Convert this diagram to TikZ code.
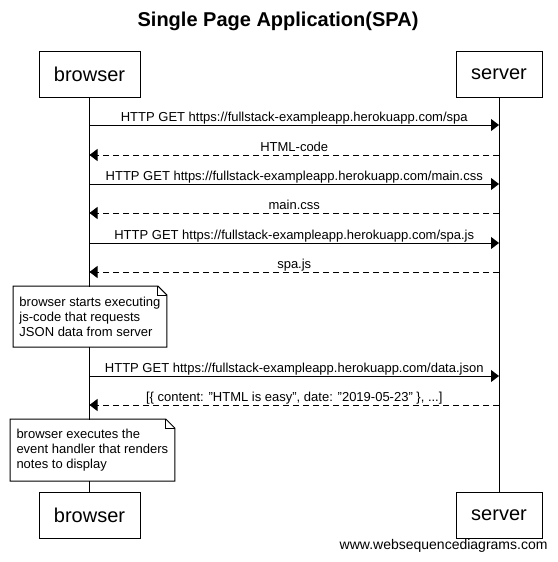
\documentclass[tikz,border=0pt]{standalone}
\usepackage{fontspec}
\setmainfont{Liberation Sans}
\usetikzlibrary{arrows.meta,positioning}

% outline of a note with a folded corner
\newcommand{\dogear}[1]{%
	\draw (#1.north west) -- ([xshift=-9pt]#1.north east) -- ([yshift=-9pt]#1.north east)
		-- (#1.south east) -- (#1.south west) -- cycle;
	\draw ([xshift=-9pt]#1.north east) -- ([xshift=-9pt,yshift=-9pt]#1.north east)
		-- ([yshift=-9pt]#1.north east);}

\begin{document}
\begin{tikzpicture}[x=1pt,y=-1pt,line width=1pt,
		partbox/.style={rectangle,draw,fill=white,minimum height=46pt,inner sep=0pt,
		font=\fontsize{20}{24}\selectfont},
		msgarrow/.style={-{Triangle[length=8pt,width=12pt]}},
		replyarrow/.style={msgarrow,dash pattern=on 6pt off 4pt},
		msglabel/.style={anchor=base,yshift=3.5pt,inner sep=0pt,font=\fontsize{13}{15}\selectfont},
		notebox/.style={rectangle,fill=white,anchor=north west,align=left,inner xsep=6pt,
		inner ysep=0pt,font=\fontsize{13}{15}\selectfont}
		]
		\useasboundingbox (0,0) rectangle (557,562);

		\node[font=\bfseries\fontsize{20}{24}\selectfont](title) at (278,21){Single Page Application(SPA)};

		\node[partbox, minimum width=101pt](B1) at (89.5,74){browser};
		\node[partbox, minimum width=86pt](S1) at (499,74){server};
		\node[partbox, minimum width=101pt](B2) at (89.5,515.5){browser};
		\node[partbox, minimum width=86pt](S2) at (499,515.5){server};
		\draw (B1) -- (B2);
		\draw (S1) -- (S2);

		\coordinate (b1) at (B1 |- 0,125); \coordinate (s1) at (S1 |- 0,125);
		\draw[msgarrow] (b1) -- (s1) node [midway, msglabel]{HTTP GET https://fullstack-exampleapp.herokuapp.com/spa};
		\coordinate (b2) at (B1 |- 0,155); \coordinate (s2) at (S1 |- 0,155);
		\draw[replyarrow] (s2) -- (b2) node [midway, msglabel]{HTML-code};
		\coordinate (b3) at (B1 |- 0,184); \coordinate (s3) at (S1 |- 0,184);
		\draw[msgarrow] (b3) -- (s3) node [midway, msglabel]{HTTP GET https://fullstack-exampleapp.herokuapp.com/main.css};
		\coordinate (b4) at (B1 |- 0,213); \coordinate (s4) at (S1 |- 0,213);
		\draw[replyarrow] (s4) -- (b4) node [midway, msglabel]{main.css};
		\coordinate (b5) at (B1 |- 0,243); \coordinate (s5) at (S1 |- 0,243);
		\draw[msgarrow] (b5) -- (s5) node [midway, msglabel]{HTTP GET https://fullstack-exampleapp.herokuapp.com/spa.js};
		\coordinate (b6) at (B1 |- 0,272); \coordinate (s6) at (S1 |- 0,272);
		\draw[replyarrow] (s6) -- (b6) node [midway, msglabel]{spa.js};

		\node[notebox, minimum height=60pt](N1) at (13,286)
			{browser starts executing\\js-code that requests\\JSON data from server};
		\dogear{N1}

		\coordinate (b7) at (B1 |- 0,376); \coordinate (s7) at (S1 |- 0,376);
		\draw[msgarrow] (b7) -- (s7) node [midway, msglabel]{HTTP GET https://fullstack-exampleapp.herokuapp.com/data.json};
		\coordinate (b8) at (B1 |- 0,405); \coordinate (s8) at (S1 |- 0,405);
		\draw[replyarrow] (s8) -- (b8) node [midway, msglabel]{[\{ content: "HTML is easy", date: "2019-05-23" \}, ...]};

		\node[notebox, minimum height=61pt](N2) at (10,419)
			{browser executes the\\event handler that renders\\notes to display};
		\dogear{N2}

		\node[anchor=east, inner sep=0pt, font=\fontsize{14}{16}\selectfont](wsd) at (548,546){www.websequencediagrams.com};
\end{tikzpicture}
\end{document}
